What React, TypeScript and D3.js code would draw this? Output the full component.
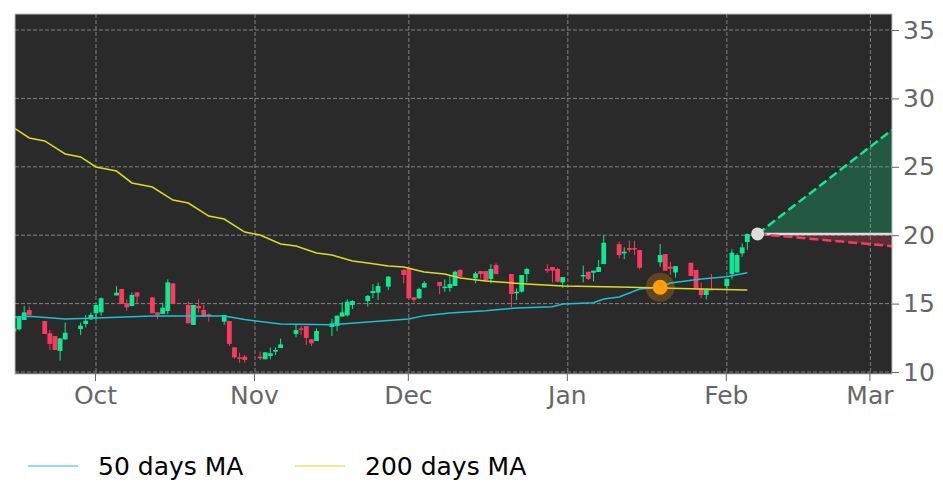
import * as d3 from 'd3';
import { useEffect, useRef } from 'react';

// date, open, high, low, close
type Candle = [string, number, number, number, number];

const candles: Candle[] = [
  ['2020-09-15', 12.95, 13.3, 12.9, 13.19],
  ['2020-09-16', 13.12, 14.05, 13.02, 14.05],
  ['2020-09-17', 13.8, 14.82, 13.8, 14.36],
  ['2020-09-18', 14.53, 14.78, 14.17, 14.17],
  ['2020-09-21', 13.73, 13.73, 12.78, 12.78],
  ['2020-09-22', 12.83, 13.07, 11.61, 12.05],
  ['2020-09-23', 12.63, 12.63, 11.61, 11.61],
  ['2020-09-24', 11.54, 12.46, 10.83, 12.46],
  ['2020-09-25', 12.39, 13.61, 12.34, 12.87],
  ['2020-09-28', 13.14, 13.61, 12.71, 13.39],
  ['2020-09-29', 13.51, 14.17, 13.27, 13.75],
  ['2020-09-30', 13.85, 14.34, 13.8, 14.17],
  ['2020-10-01', 14.29, 14.9, 13.8, 14.9],
  ['2020-10-02', 14.36, 15.46, 14.12, 15.39],
  ['2020-10-05', 15.6, 16.29, 15.6, 15.8],
  ['2020-10-06', 16.07, 16.07, 14.97, 14.97],
  ['2020-10-07', 15.02, 15.31, 14.48, 14.73],
  ['2020-10-08', 14.82, 15.8, 14.82, 15.63],
  ['2020-10-09', 15.82, 15.82, 15.02, 15.51],
  ['2020-10-12', 15.46, 15.46, 14.29, 14.29],
  ['2020-10-13', 14.36, 14.36, 13.87, 14.17],
  ['2020-10-14', 14.24, 15.07, 14.24, 14.7],
  ['2020-10-15', 14.46, 16.77, 14.24, 16.55],
  ['2020-10-16', 16.48, 16.48, 14.97, 14.97],
  ['2020-10-19', 14.9, 15.14, 13.56, 13.56],
  ['2020-10-20', 13.44, 14.9, 13.44, 14.9],
  ['2020-10-21', 14.82, 15.31, 14.34, 14.65],
  ['2020-10-22', 14.53, 14.9, 14.05, 14.05],
  ['2020-10-23', 14.22, 14.29, 13.68, 14.12],
  ['2020-10-26', 13.68, 14.17, 13.44, 14.17],
  ['2020-10-27', 13.73, 13.73, 11.9, 12.05],
  ['2020-10-28', 11.8, 11.8, 10.97, 11.07],
  ['2020-10-29', 11.07, 11.41, 10.68, 10.97],
  ['2020-10-30', 11.12, 11.24, 10.68, 10.88],
  ['2020-11-02', 11.12, 11.49, 10.88, 11.0],
  ['2020-11-03', 10.93, 11.44, 10.93, 11.44],
  ['2020-11-04', 11.17, 11.78, 10.93, 11.37],
  ['2020-11-05', 11.49, 11.8, 11.24, 11.61],
  ['2020-11-06', 11.75, 12.44, 11.75, 12.02],
  ['2020-11-09', 12.78, 13.44, 12.53, 13.07],
  ['2020-11-10', 13.19, 13.36, 12.7, 13.14],
  ['2020-11-11', 13.36, 13.36, 11.97, 12.49],
  ['2020-11-12', 12.39, 12.39, 11.9, 12.1],
  ['2020-11-13', 12.27, 13.19, 12.27, 13.0],
  ['2020-11-16', 13.29, 13.88, 12.63, 13.56],
  ['2020-11-17', 13.36, 14.12, 13.0, 14.12],
  ['2020-11-18', 14.05, 15.1, 14.05, 14.36],
  ['2020-11-19', 14.14, 15.31, 14.05, 15.14],
  ['2020-11-20', 14.9, 15.25, 14.6, 15.19],
  ['2020-11-23', 15.19, 15.63, 14.78, 15.56],
  ['2020-11-24', 15.77, 16.43, 15.39, 15.92],
  ['2020-11-25', 15.8, 16.53, 15.26, 16.29],
  ['2020-11-27', 16.24, 17.02, 16.0, 16.97],
  ['2020-11-30', 17.46, 17.5, 16.48, 17.09],
  ['2020-12-01', 17.58, 17.58, 15.39, 15.39],
  ['2020-12-02', 15.46, 15.46, 15.07, 15.26],
  ['2020-12-03', 15.39, 16.17, 15.34, 16.07],
  ['2020-12-04', 16.17, 16.65, 16.17, 16.5],
  ['2020-12-07', 16.58, 16.58, 15.7, 16.29],
  ['2020-12-08', 16.14, 16.77, 15.87, 16.24],
  ['2020-12-09', 16.14, 17.02, 15.87, 16.43],
  ['2020-12-10', 16.29, 17.41, 16.29, 17.33],
  ['2020-12-11', 17.46, 17.5, 16.85, 16.97],
  ['2020-12-14', 16.85, 17.33, 16.48, 17.21],
  ['2020-12-15', 17.38, 17.38, 16.85, 17.16],
  ['2020-12-16', 17.38, 17.38, 16.68, 16.68],
  ['2020-12-17', 16.8, 17.87, 16.48, 17.53],
  ['2020-12-18', 17.82, 17.94, 17.16, 17.16],
  ['2020-12-21', 17.16, 17.16, 14.73, 15.7],
  ['2020-12-22', 15.75, 16.11, 15.26, 15.87],
  ['2020-12-23', 15.87, 17.09, 15.8, 17.09],
  ['2020-12-24', 17.16, 17.62, 16.55, 17.53],
  ['2020-12-28', 17.53, 17.87, 17.26, 17.41],
  ['2020-12-29', 17.67, 17.67, 16.55, 17.41],
  ['2020-12-30', 17.53, 17.62, 16.55, 16.6],
  ['2020-12-31', 16.55, 16.94, 16.16, 16.94],
  ['2021-01-04', 17.0, 17.77, 16.55, 17.09],
  ['2021-01-05', 17.33, 17.33, 16.72, 16.8],
  ['2021-01-06', 17.26, 17.41, 16.63, 17.41],
  ['2021-01-07', 17.31, 18.19, 17.31, 17.67],
  ['2021-01-08', 17.89, 20.01, 17.89, 19.45],
  ['2021-01-11', 19.35, 19.53, 18.31, 18.55],
  ['2021-01-12', 18.67, 19.11, 18.26, 18.79],
  ['2021-01-13', 19.06, 19.6, 18.75, 18.92],
  ['2021-01-14', 19.06, 19.6, 18.55, 18.97],
  ['2021-01-15', 18.92, 18.92, 17.5, 17.62],
  ['2021-01-19', 18.02, 19.35, 17.7, 18.55],
  ['2021-01-20', 18.62, 18.62, 17.41, 17.41],
  ['2021-01-21', 17.7, 18.06, 17.09, 17.55],
  ['2021-01-22', 17.28, 17.74, 16.92, 17.74],
  ['2021-01-25', 17.99, 17.99, 17.02, 17.02],
  ['2021-01-26', 17.46, 17.46, 16.11, 16.11],
  ['2021-01-27', 16.11, 16.53, 15.38, 15.63],
  ['2021-01-28', 15.63, 16.11, 15.31, 16.0],
  ['2021-01-29', 16.07, 17.16, 16.0, 16.02],
  ['2021-02-01', 16.28, 16.8, 15.99, 16.8],
  ['2021-02-02', 17.16, 18.97, 16.77, 18.72],
  ['2021-02-03', 17.28, 18.67, 17.21, 18.55],
  ['2021-02-04', 18.67, 19.4, 18.43, 19.11],
  ['2021-02-05', 19.5, 20.12, 18.92, 20.09],
];

const ma50: [string, number][] = [
  ['2020-09-15', 14.02], ['2020-09-18', 14.08], ['2020-09-25', 13.88], ['2020-10-01', 13.95],
  ['2020-10-12', 14.09], ['2020-10-23', 14.1], ['2020-10-26', 14.09], ['2020-10-30', 13.84],
  ['2020-11-06', 13.51], ['2020-11-16', 13.46], ['2020-11-23', 13.65], ['2020-12-01', 13.87],
  ['2020-12-04', 14.12], ['2020-12-09', 14.31], ['2020-12-16', 14.48], ['2020-12-22', 14.68],
  ['2020-12-29', 14.77], ['2020-12-31', 14.97], ['2021-01-06', 15.07], ['2021-01-08', 15.34],
  ['2021-01-11', 15.48], ['2021-01-15', 16.07], ['2021-01-19', 16.2], ['2021-01-21', 16.5],
  ['2021-01-27', 16.8], ['2021-02-01', 16.97], ['2021-02-05', 17.26],
];

const ma200: [string, number][] = [
  ['2020-09-15', 27.84], ['2020-09-18', 27.11], ['2020-09-21', 26.89], ['2020-09-25', 25.94],
  ['2020-09-28', 25.72], ['2020-10-01', 24.99], ['2020-10-05', 24.69], ['2020-10-08', 23.82],
  ['2020-10-12', 23.52], ['2020-10-16', 22.57], ['2020-10-19', 22.35], ['2020-10-23', 21.4],
  ['2020-10-26', 21.18], ['2020-10-30', 20.23], ['2020-11-02', 20.01], ['2020-11-06', 19.36],
  ['2020-11-09', 19.21], ['2020-11-13', 18.7], ['2020-11-16', 18.55], ['2020-11-20', 18.11],
  ['2020-11-23', 17.97], ['2020-11-27', 17.75], ['2020-11-30', 17.68], ['2020-12-04', 17.31],
  ['2020-12-08', 17.16], ['2020-12-11', 16.87], ['2020-12-16', 16.65], ['2020-12-21', 16.51],
  ['2020-12-24', 16.43], ['2020-12-31', 16.29], ['2021-01-11', 16.21], ['2021-01-19', 16.14],
  ['2021-01-27', 16.07], ['2021-02-05', 15.99],
];

const yTicks = [10, 15, 20, 25, 30, 35];
const signalDate = '2021-01-19';
const signalValue = 16.2;
const forecastStart = '2021-02-07';
const forecastEnd = '2021-03-05T05:00:00Z';
const forecastBase = 20.09;
const forecastHigh = 27.7;
const forecastLow = 19.2;

const up = '#10e88f';
const down = '#fa3a5e';
const cyan = '#17c3d6';
const yellow = '#dcdc1e';
const fontSize = 25;

export default function App() {
  const svgRef = useRef<SVGSVGElement | null>(null);

  useEffect(() => {
    if (!svgRef.current) return;
    const svg = d3.select(svgRef.current);
    svg.selectAll('*').remove();

    const left = 15, right = 892, top = 14, bottom = 374;
    const x = d3.scaleUtc()
      .domain([new Date('2020-09-15T05:00:00Z'), new Date(forecastEnd)])
      .range([left, right]);
    const y = d3.scaleLinear().domain([10, 35]).range([372, 30]);
    const d = (s: string) => new Date(s.length > 10 ? s : s + 'T00:00:00Z');

    svg.append('defs').append('clipPath').attr('id', 'plot')
      .append('rect').attr('x', left).attr('y', top)
      .attr('width', right - left).attr('height', bottom - top);

    svg.append('rect').attr('x', left).attr('y', top)
      .attr('width', right - left).attr('height', bottom - top)
      .attr('fill', '#2a2a2a');

    // grid
    const monthTicks = d3.utcMonth.range(new Date('2020-10-01'), new Date('2021-03-02'));
    const grid = svg.append('g').attr('stroke', '#a0a0a0').attr('stroke-width', 1)
      .attr('stroke-dasharray', '4,2').attr('opacity', 0.75);
    grid.selectAll('.gx').data(monthTicks).join('line').attr('class', 'gx')
      .attr('x1', t => x(t)).attr('x2', t => x(t)).attr('y1', top).attr('y2', bottom);
    grid.selectAll('.gy').data(yTicks).join('line').attr('class', 'gy')
      .attr('x1', left).attr('x2', right).attr('y1', v => y(v)).attr('y2', v => y(v));

    const plot = svg.append('g').attr('clip-path', 'url(#plot)');

    // forecast wedges
    const x0 = x(d(forecastStart)), x1 = x(d(forecastEnd));
    const wedge = d3.line();
    plot.append('path')
      .attr('d', wedge([[x0, y(forecastBase)], [x1, y(forecastHigh)], [x1, y(forecastBase)]]))
      .attr('fill', up).attr('opacity', 0.25);
    plot.append('path')
      .attr('d', wedge([[x0, y(forecastBase)], [x1, y(forecastLow)], [x1, y(forecastBase)]]))
      .attr('fill', down).attr('opacity', 0.25);
    plot.append('line').attr('x1', x0).attr('x2', x1)
      .attr('y1', y(forecastBase)).attr('y2', y(forecastBase))
      .attr('stroke', '#dcdcdc').attr('stroke-width', 2.5);
    plot.append('line').attr('x1', x0).attr('x2', x1)
      .attr('y1', y(forecastBase)).attr('y2', y(forecastHigh))
      .attr('stroke', up).attr('stroke-width', 2.5).attr('stroke-dasharray', '9,4');
    plot.append('line').attr('x1', x0).attr('x2', x1)
      .attr('y1', y(forecastBase)).attr('y2', y(forecastLow))
      .attr('stroke', down).attr('stroke-width', 2.5).attr('stroke-dasharray', '9,4');

    // candles
    const bars = plot.append('g').selectAll('g').data(candles).join('g')
      .attr('fill', c => (c[4] >= c[1] ? up : down))
      .attr('stroke', c => (c[4] >= c[1] ? up : down));
    bars.append('line')
      .attr('x1', c => x(d(c[0]))).attr('x2', c => x(d(c[0])))
      .attr('y1', c => y(c[2])).attr('y2', c => y(c[3]))
      .attr('stroke-width', 1);
    bars.append('rect')
      .attr('x', c => x(d(c[0])) - 2.4).attr('width', 4.8)
      .attr('y', c => y(Math.max(c[1], c[4])))
      .attr('height', c => Math.max(1.5, Math.abs(y(c[1]) - y(c[4]))))
      .attr('stroke', 'none');

    // moving averages
    const line = d3.line<[string, number]>().x(p => x(d(p[0]))).y(p => y(p[1]));
    plot.append('path').attr('d', line(ma50)).attr('fill', 'none')
      .attr('stroke', cyan).attr('stroke-width', 1.5);
    plot.append('path').attr('d', line(ma200)).attr('fill', 'none')
      .attr('stroke', yellow).attr('stroke-width', 1.5);

    // markers
    plot.append('circle').attr('cx', x(d(signalDate))).attr('cy', y(signalValue))
      .attr('r', 14.5).attr('fill', '#ff9d0a').attr('opacity', 0.25);
    plot.append('circle').attr('cx', x(d(signalDate))).attr('cy', y(signalValue))
      .attr('r', 7.5).attr('fill', '#ff9d0a');
    plot.append('circle').attr('cx', x0).attr('cy', y(forecastBase))
      .attr('r', 6.5).attr('fill', '#dcdcdc');

    // frame
    svg.append('rect').attr('x', left).attr('y', top)
      .attr('width', right - left).attr('height', bottom - top)
      .attr('fill', 'none').attr('stroke', '#bdbdbd').attr('stroke-width', 1);

    // axes
    const xAxis = d3.axisBottom(x).tickValues(monthTicks)
      .tickFormat(t => d3.utcFormat('%b')(t as Date)).tickSize(7).tickPadding(5);
    const yAxis = d3.axisRight(y).tickValues(yTicks).tickSize(7).tickPadding(4);
    const gx = svg.append('g').attr('transform', `translate(-1,${bottom})`).call(xAxis);
    const gy = svg.append('g').attr('transform', `translate(${right},0)`).call(yAxis);
    for (const g of [gx, gy]) {
      g.select('.domain').remove();
      g.selectAll('line').attr('stroke', '#666');
      g.selectAll('text').attr('fill', '#666')
        .attr('font-family', '"DejaVu Sans"').attr('font-size', fontSize);
    }

    // legend
    const legend = [
      { label: '50 days MA', color: cyan, x: 28 },
      { label: '200 days MA', color: yellow, x: 295 },
    ];
    const items = svg.append('g').selectAll('g').data(legend).join('g')
      .attr('transform', l => `translate(${l.x},466)`);
    items.append('line').attr('x2', 50).attr('stroke', l => l.color).attr('stroke-width', 1.2);
    items.append('text').text(l => l.label).attr('x', 70).attr('dy', '0.36em')
      .attr('font-family', '"DejaVu Sans"').attr('font-size', fontSize).attr('fill', '#000');
  }, []);

  return (
    <svg
      ref={svgRef}
      width={943}
      height={498}
      style={{ position: 'absolute', left: 0, top: 0, background: '#fff' }}
    />
  );
}
